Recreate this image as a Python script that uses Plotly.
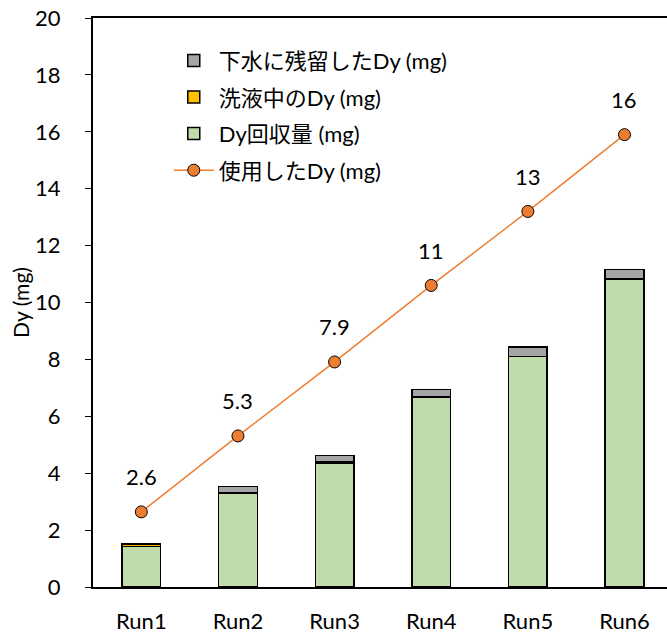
import plotly.graph_objects as go

runs = ["Run1", "Run2", "Run3", "Run4", "Run5", "Run6"]
recovered = [1.43, 3.29, 4.35, 6.68, 8.10, 10.82]      # Dy回収量
in_wash = [0.06, 0.01, 0.07, 0.01, 0.01, 0.01]          # 洗液中のDy
in_waste = [0.02, 0.23, 0.21, 0.26, 0.32, 0.33]         # 下水に残留したDy
used = [2.64, 5.31, 7.91, 10.6, 13.2, 15.9]             # 使用したDy

FONT = "Lato, 'Noto Sans CJK JP', sans-serif"
bar_line = dict(color="black", width=1.5)

fig = go.Figure()
fig.add_trace(go.Bar(x=runs, y=recovered, name="Dy回収量 (mg)", width=0.4,
                     marker=dict(color="#C0DCAB", line=bar_line),
                     legendrank=3, legendgroup="c"))
fig.add_trace(go.Bar(x=runs, y=in_wash, name="洗液中のDy (mg)", width=0.4,
                     marker=dict(color="#FFC000", line=bar_line),
                     legendrank=2, legendgroup="b"))
fig.add_trace(go.Bar(x=runs, y=in_waste, name="下水に残留したDy (mg)", width=0.4,
                     marker=dict(color="#A5A5A5", line=bar_line),
                     legendrank=1, legendgroup="a"))
fig.add_trace(go.Scatter(x=runs, y=used, name="使用したDy (mg)", mode="lines+markers",
                         line=dict(color="#ED7D31", width=1.5),
                         marker=dict(color="#ED7D31", size=12,
                                     line=dict(color="black", width=1)),
                         legendrank=4, legendgroup="d"))

# value labels above the line markers (2 significant digits)
for r, v in zip(runs, used):
    fig.add_annotation(x=r, y=v, text=f"{v:.2g}", showarrow=False,
                       yshift=35, font=dict(size=22, color="black", family=FONT))

fig.update_layout(
    width=667, height=633,
    margin=dict(l=93, r=0, t=18, b=46),
    barmode="stack",
    plot_bgcolor="white", paper_bgcolor="white",
    font=dict(family=FONT, size=22, color="black"),
    showlegend=True,
    legend=dict(x=0.132, y=0.962, xanchor="left", yanchor="top",
                traceorder="grouped", tracegroupgap=5,
                bgcolor="rgba(0,0,0,0)", font=dict(size=22, family=FONT),
                itemwidth=40),
    xaxis=dict(range=[-0.5, 5.44], showline=True, linecolor="black", linewidth=2,
               mirror=True, ticks="", showgrid=False, tickfont=dict(size=22),
               ticklabelstandoff=14),
    yaxis=dict(range=[0, 20], dtick=2, showline=True, linecolor="black", linewidth=2,
               ticks="outside", ticklen=6, tickwidth=1, tickcolor="black",
               showgrid=False, zeroline=False, tickfont=dict(size=22),
               ticklabelstandoff=20,
               title=dict(text="Dy (mg)", font=dict(size=21), standoff=0)),
)

fig.write_html("out.html")
